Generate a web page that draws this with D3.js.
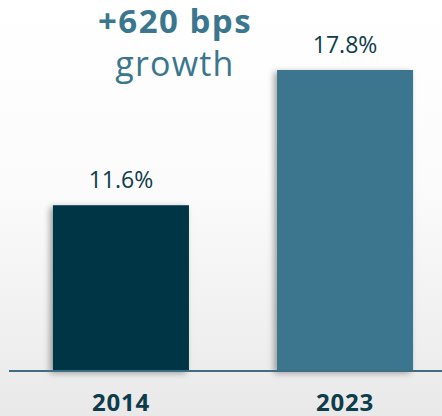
<!DOCTYPE html>
<html>
<head>
<meta charset="utf-8">
<script src="https://cdn.jsdelivr.net/npm/d3@7"></script>
<style>
  html, body { margin: 0; padding: 0; background: #fff; }
  svg { display: block; }
</style>
</head>
<body>
<figure style="margin:0"></figure>
<script>
(async () => {

  // data
  const years = ["2014", "2023"]
  const values = [11.6, 17.8]
  const headline = ["+620 bps", "growth"]
  const colors = ["#023645", "#3a768e"]

  const svgWidth = 442
  const svgHeight = 416
  const baseline = 371

  const svg = d3.select('figure')
    .append('svg')
    .attr('width', svgWidth)
    .attr('height', svgHeight)

  // background gradient + shadow
  const defs = svg.append('defs')
  const grad = defs.append('linearGradient')
    .attr('id', 'bg').attr('x1', 0).attr('x2', 0).attr('y1', 0).attr('y2', 1)
  grad.append('stop').attr('offset', '0%').attr('stop-color', '#ffffff')
  grad.append('stop').attr('offset', '45%').attr('stop-color', '#fbfbfb')
  grad.append('stop').attr('offset', '100%').attr('stop-color', '#e9e9e9')

  const shadow = defs.append('filter').attr('id', 'shadow')
    .attr('x', '-20%').attr('y', '-10%').attr('width', '140%').attr('height', '120%')
  shadow.append('feDropShadow')
    .attr('dx', -3).attr('dy', 2).attr('stdDeviation', 3)
    .attr('flood-color', '#000').attr('flood-opacity', 0.35)

  svg.append('rect')
    .attr('width', svgWidth).attr('height', svgHeight)
    .attr('fill', 'url(#bg)')

  // scales
  const x = d3.scaleBand()
    .domain(years)
    .range([9, 457])
    .paddingInner(0.393)
    .paddingOuter(0.196)

  const y = d3.scaleLinear()
    .domain([4, 17.8])
    .range([baseline, 70])

  // bars
  svg.append('g')
    .selectAll('rect')
    .data(years)
    .enter().append('rect')
    .attr('x', d => x(d))
    .attr('y', (d, i) => y(values[i]))
    .attr('width', x.bandwidth())
    .attr('height', (d, i) => baseline - y(values[i]))
    .attr('fill', (d, i) => colors[i])
    .attr('filter', 'url(#shadow)')

  // value labels
  svg.append('g')
    .selectAll('text')
    .data(years)
    .enter().append('text')
    .attr('x', d => x(d) + x.bandwidth() / 2)
    .attr('y', (d, i) => y(values[i]) - 17)
    .attr('text-anchor', 'middle')
    .style('font-family', "'Open Sans', sans-serif")
    .style('font-size', '23px')
    .style('fill', '#0d3c4b')
    .text((d, i) => values[i].toFixed(1) + '%')

  // baseline
  svg.append('line')
    .attr('x1', 9).attr('x2', svgWidth)
    .attr('y1', baseline).attr('y2', baseline)
    .attr('stroke', '#3f6e82')
    .attr('stroke-width', 2)

  // year labels
  const xAxis = svg.append('g')
    .attr('transform', `translate(0,${baseline})`)
    .call(d3.axisBottom(x).tickSize(0).tickPadding(23))
  xAxis.select('.domain').remove()
  xAxis.selectAll('text')
    .style('font-family', "'Open Sans', sans-serif")
    .style('font-size', '24px')
    .style('font-weight', 700)
    .style('letter-spacing', '0.8px')
    .style('fill', '#0d3c4b')

  // headline
  svg.append('text')
    .attr('x', 175).attr('y', 33)
    .attr('text-anchor', 'middle')
    .style('font-family', "'Open Sans', sans-serif")
    .style('font-size', '33px')
    .style('font-weight', 700)
    .style('letter-spacing', '1.5px')
    .style('fill', '#3a768e')
    .text(headline[0])

  svg.append('text')
    .attr('x', 175).attr('y', 76)
    .attr('text-anchor', 'middle')
    .style('font-family', "'Open Sans', sans-serif")
    .style('font-size', '34px')
    .style('letter-spacing', '1.2px')
    .style('fill', '#3a768e')
    .text(headline[1])

})()
</script>
</body>
</html>
